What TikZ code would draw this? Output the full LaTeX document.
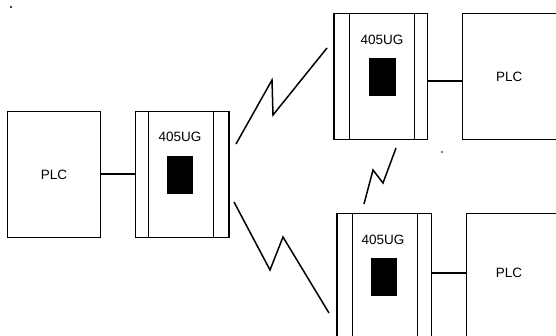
\documentclass[tikz,border=0pt]{standalone}
\usepackage{fontspec}
\setmainfont{Liberation Sans}
\begin{document}
\begin{tikzpicture}[x=1pt,y=-1pt,
  box/.style={draw=black,line width=0.9pt,inner sep=0pt,anchor=north west},
  lbl/.style={font=\fontsize{13.5}{14}\selectfont,inner sep=0pt},
  led/.style={fill=black,draw=none,inner sep=0pt,anchor=north west},
  wire/.style={line width=2pt},
  zig/.style={line width=1.5pt,line join=miter},
  thick side/.style={line width=2.2pt}]
\useasboundingbox (0,0) rectangle (556,336);
\clip (0,0) rectangle (556,336);
\fill (11,7) circle (1.2);
\fill (442,152) circle (0.9);
% PLCs
\node[box,minimum width=93pt,minimum height=126pt] (p1) at (7,111) {};
\node[lbl] at (p1.center) {PLC};
\node[box,minimum width=93.5pt,minimum height=126pt] (p2) at (462,13) {};
\node[lbl] at (p2.center) {PLC};
\node[box,minimum width=100pt,minimum height=140pt] (p3) at (466,213) {};
\node[lbl] at (509,273) {PLC};
% 405UG units
\node[box,minimum width=93pt,minimum height=126pt] (u1) at (135,111) {};
\draw[line width=0.9pt] (148,111) -- (148,237) (213,111) -- (213,237);
\draw[thick side] (u1.north east) -- (u1.south east);
\node[lbl] (t1) at (180,137) {405UG};
\node[led,minimum width=26pt,minimum height=38pt] (l1) at (167,156) {};

\node[box,minimum width=93pt,minimum height=126pt] (u2) at (334,13) {};
\draw[line width=0.9pt] (349,13) -- (349,139) (414,13) -- (414,139);
\draw[thick side] (u2.north west) -- (u2.south west);
\node[lbl] (t2) at (382,40) {405UG};
\node[led,minimum width=27pt,minimum height=38pt] (l2) at (369,58) {};

\node[box,minimum width=94pt,minimum height=140pt] (u3) at (337,213) {};
\draw[line width=0.9pt] (352,213) -- (352,353) (417,213) -- (417,353);
\draw[thick side] (u3.north west) -- (u3.south west);
\node[lbl] (t3) at (383,240) {405UG};
\node[led,minimum width=26pt,minimum height=38pt] (l3) at (371,258) {};
% wires
\draw[wire] (p1.east) -- (u1.west);
\draw[wire] (u2.east |- 0,81) -- (p2.west |- 0,81);
\draw[wire] (u3.east |- 0,273) -- (p3.west |- 0,273);
% radio links
\draw[zig] (236,144) -- (272,80) -- (273,115) -- (327,48);
\draw[zig] (396,148) -- (383,183) -- (373,170) -- (364,204);
\draw[zig] (234,202) -- (270,270) -- (283,237) -- (329,313);
\end{tikzpicture}
\end{document}
